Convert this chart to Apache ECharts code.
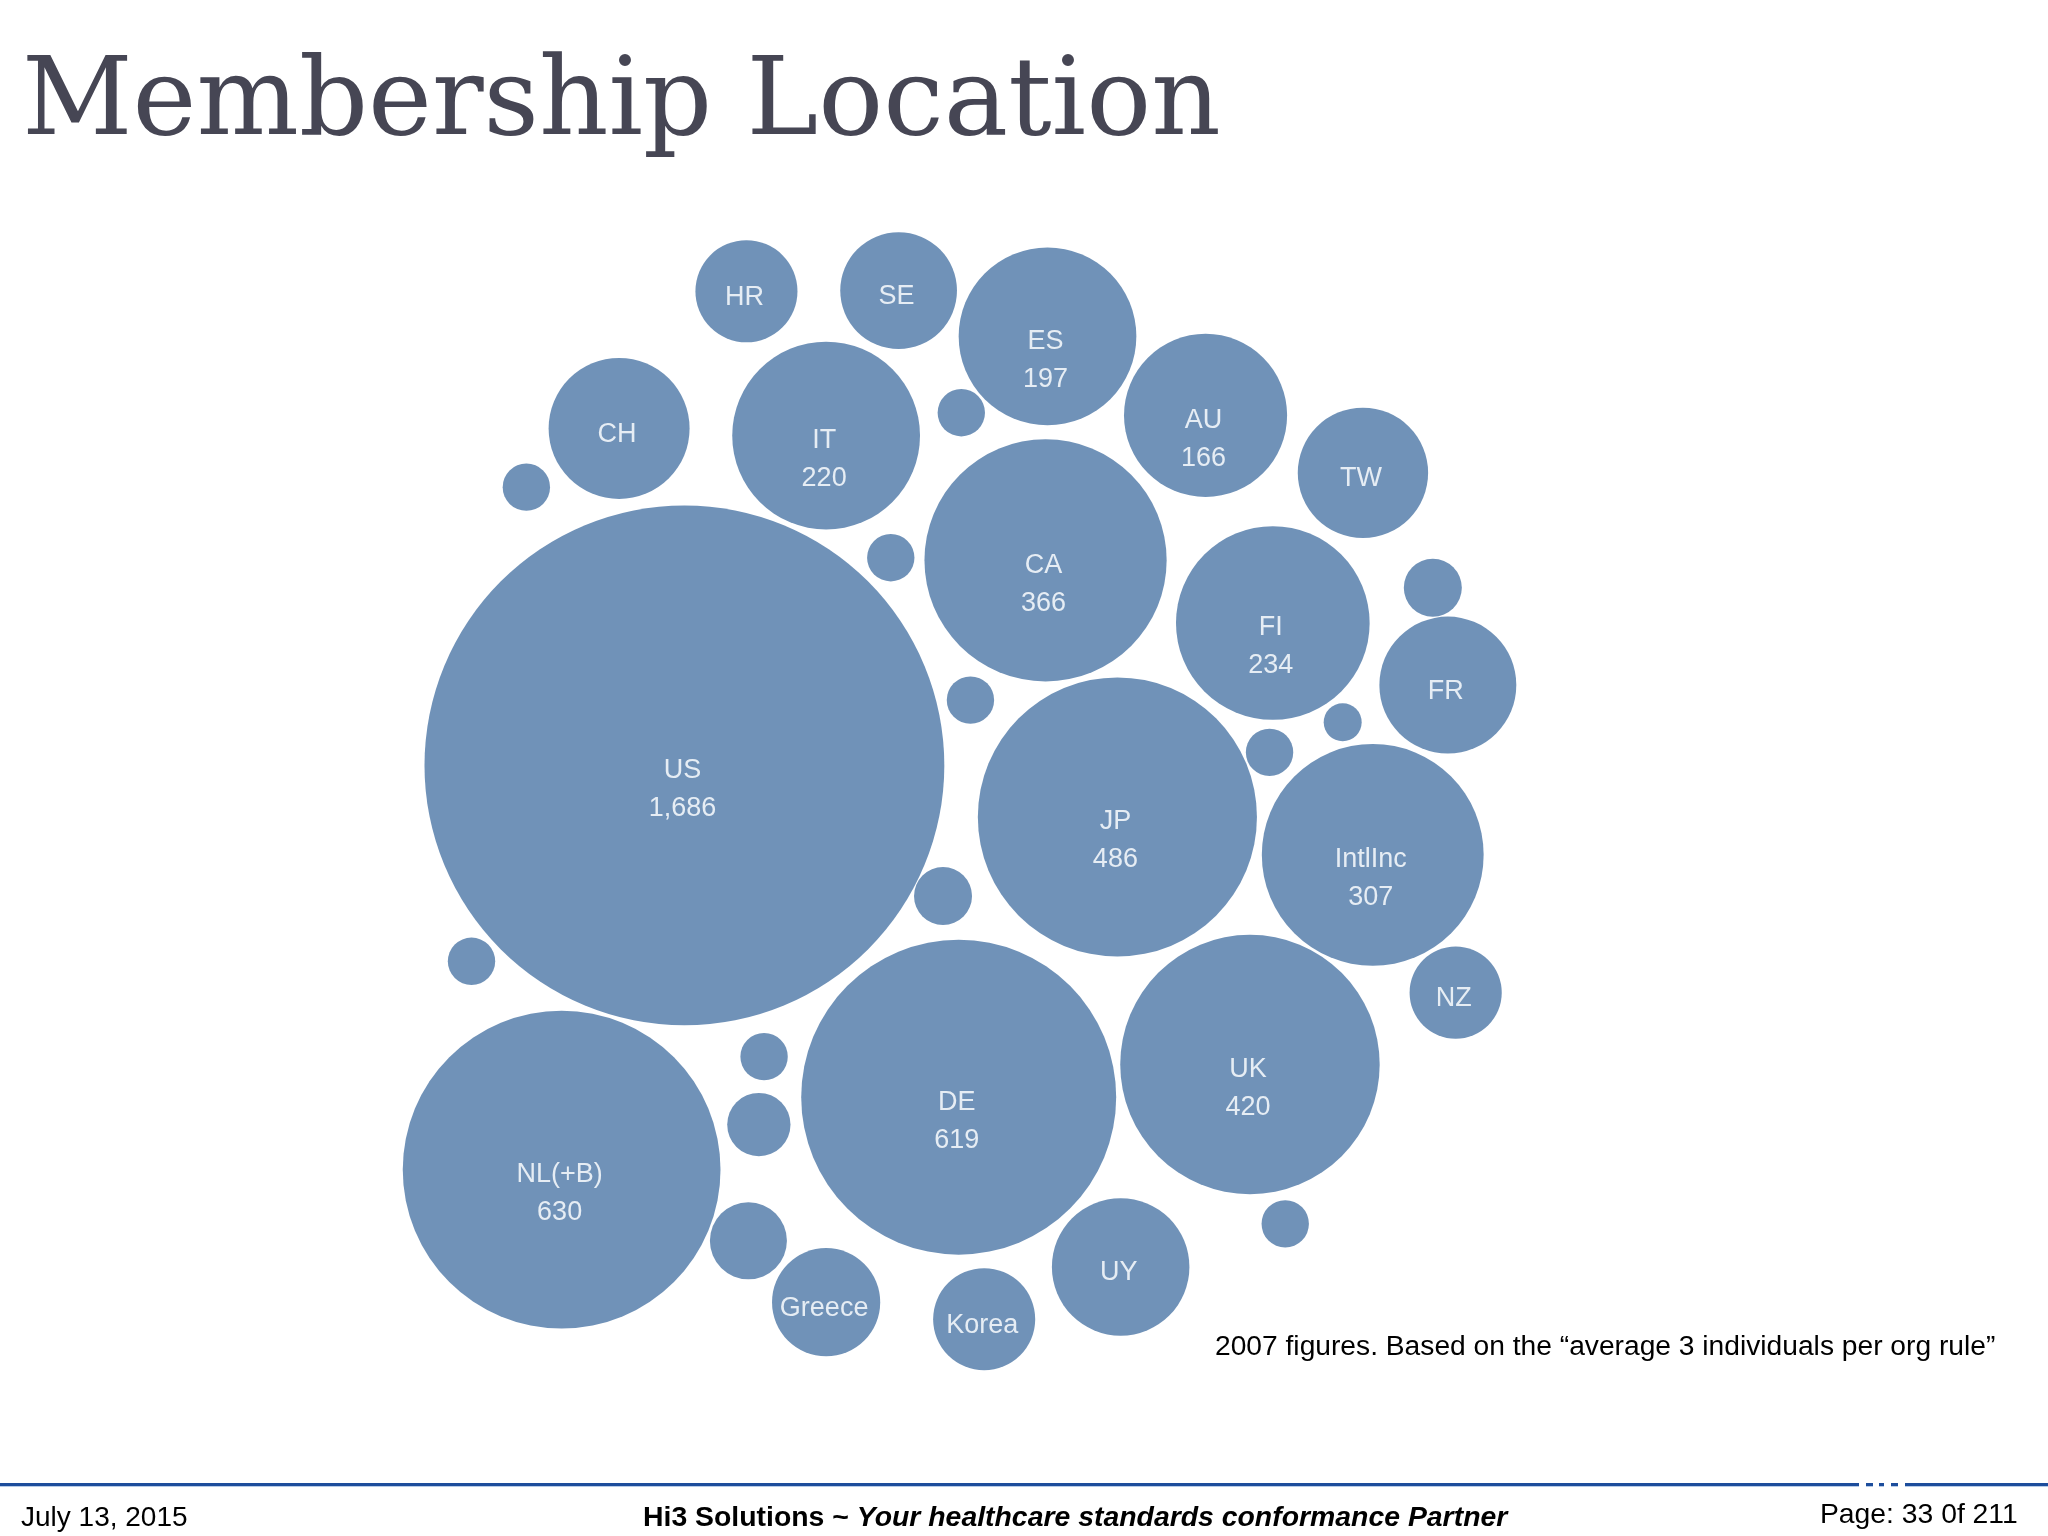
<!DOCTYPE html>
<html><head><meta charset="utf-8">
<style>html,body{margin:0;padding:0;background:#fff}#c{width:2048px;height:1536px}</style>
<script src="https://cdn.jsdelivr.net/npm/echarts@6/dist/echarts.min.js"></script>
</head><body><div id="c"></div>
<script>
const titleText = "Membership Location";
const noteText = "2007 figures. Based on the “average 3 individuals per org rule”";
const footerDate = "July 13, 2015";
const footerPage = "Page: 33 0f 211";
const names  = ["US","NL(+B)","DE","JP","UK","CA","IntlInc","FI","IT","ES","AU","CH","UY","FR","TW","SE","Greece","HR","Korea","NZ","","","","","","","","","","","","",""];
const values = [1686,630,619,486,420,366,307,234,220,197,166,124,118,117,106,85,73,65,65,53,14,14,14,14,21,14,14,25,37,14,14,9,21];
const xs = [524,430,734,855.5,957,800.5,1051,974.5,632.5,802,923,474,858,1108.5,1043.5,688,632.5,571.5,753.5,1114.5,403,736,682,743,722,361,585,581,573,984,972,1028,1097];
const ys = [586,895.5,840,625.5,815,429,654.5,477,333.5,257.5,318,328,970,524.5,362,222.5,997,223,1010,760,373,316,427,536,686,736,809,861,950,937,576,553,450];
const printedValues = ["1,686","630","619","486","420","366","307","234","220","197","166","","","","","","","","","","","","","","","","","","","","","",""];

const chart = echarts.init(document.getElementById('c'), null, {renderer:'canvas'});
const data = names.map((n,i)=>({name:n,value:[xs[i],ys[i],values[i],printedValues[i]]}));
const sizePerRootValue = 12.66;
const gap = (x,w)=>({type:'rect',shape:{x:x,y:1482,width:w,height:6},z:6,style:{fill:'#ffffff'}});
chart.setOption({
  animation:false,
  backgroundColor:'#ffffff',
  title:{show:false},
  tooltip:{show:false},
  grid:{left:0,right:0,top:0,bottom:0},
  xAxis:{type:'value',min:0,max:1568,show:false},
  yAxis:{type:'value',min:0,max:1176,inverse:true,show:false},
  series:[{
    type:'scatter',
    data:data,
    symbol:'circle',
    symbolSize:v=>sizePerRootValue*Math.sqrt(v[2]),
    itemStyle:{color:'#7092b8',opacity:1},
    label:{
      show:true,position:'inside',
      fontFamily:'"Liberation Sans",Arial,sans-serif',
      fontSize:27,lineHeight:38,color:'#e6edf4',
      formatter:p=>p.value[3]?p.name+'\n'+p.value[3]:p.name
    },
    labelLayout:p=>{
      const i=p.dataIndex; return {dy:printedValues[i]?24:6,dx:-2};
    },
    emphasis:{disabled:true}
  }],
  graphic:[
    {type:'text',left:22,top:52,z:10,style:{text:titleText,font:'108px "DejaVu Serif",serif',fill:'#464654'}},
    {type:'text',left:1215,top:1333,z:10,style:{text:noteText,font:'28.2px "Liberation Sans",Arial,sans-serif',fill:'#000'}},
    {type:'rect',shape:{x:0,y:1483,width:2048,height:3},z:5,style:{fill:'#1d4d9c'}},
    {type:'rect',shape:{x:0,y:1486,width:2048,height:1},z:5,style:{fill:'#b6cbe8'}},
    gap(1859,7),gap(1873,6),gap(1884,7),gap(1898,7),
    {type:'text',left:21,top:1504,z:10,style:{text:footerDate,font:'28px "Liberation Sans",Arial,sans-serif',fill:'#000'}},
    {type:'text',left:643,top:1504,z:10,style:{rich:{a:{font:'bold 28.4px "Liberation Sans",Arial,sans-serif',fill:'#000'},b:{font:'italic bold 28.4px "Liberation Sans",Arial,sans-serif',fill:'#000'}},text:'{a|Hi3 Solutions ~ }{b|Your healthcare standards conformance Partner}'}},
    {type:'text',left:1820,top:1501,z:10,style:{text:footerPage,font:'28.3px "Liberation Sans",Arial,sans-serif',fill:'#000'}}
  ]
});
</script></body></html>
